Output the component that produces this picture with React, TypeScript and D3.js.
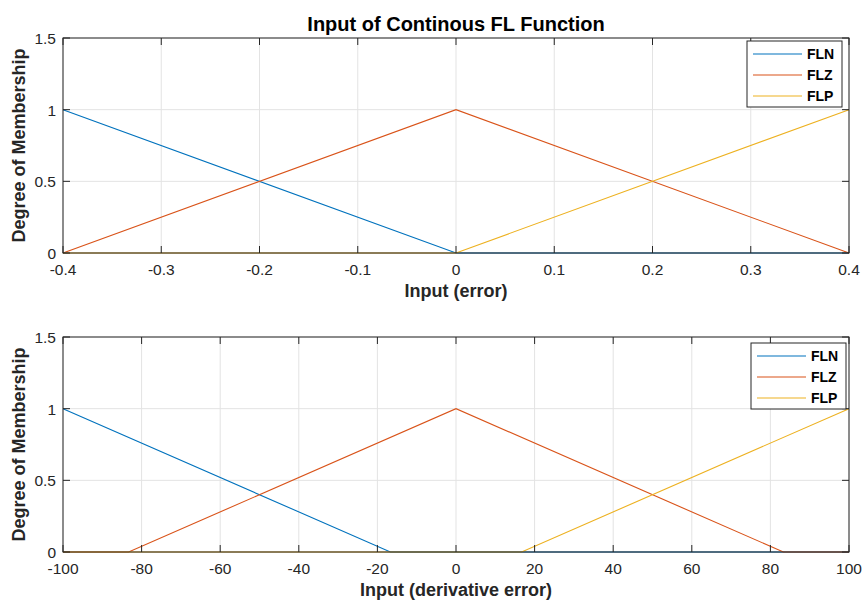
import React from 'react';
import { scaleLinear, line } from 'd3';

// Membership function breakpoints
const errX = [-0.4, 0, 0.4];
const errFLN = [1, 0, 0];
const errFLZ = [0, 1, 0];
const errFLP = [0, 0, 1];

const derFLNx = [-100, -16.7, 100];
const derFLNy = [1, 0, 0];
const derFLZx = [-100, -83.3, 0, 83.3, 100];
const derFLZy = [0, 0, 1, 0, 0];
const derFLPx = [-100, 16.7, 100];
const derFLPy = [0, 0, 1];

const errTicks = [-0.4, -0.3, -0.2, -0.1, 0, 0.1, 0.2, 0.3, 0.4];
const derTicks = [-100, -80, -60, -40, -20, 0, 20, 40, 60, 80, 100];
const yTicks = [0, 0.5, 1, 1.5];
const names = ['FLN', 'FLZ', 'FLP'];
const colors = ['#0072BD', '#D95319', '#EDB120'];

const width = 863;
const height = 601;
const font = '"Liberation Sans", Arial, sans-serif';
const axisColor = '#262626';

type Series = { xs: number[]; ys: number[] };

const Panel = ({ top, series, ticks, xLabel, legendTop, legendLeft }: {
    top: number; series: Series[]; ticks: number[]; xLabel: string; legendTop: number; legendLeft: number;
}) => {
    const left = 63;
    const right = 849;
    const bottom = top + 215;
    const xScale = scaleLinear().domain([ticks[0], ticks[ticks.length - 1]]).range([left, right]);
    const yScale = scaleLinear().domain([0, 1.5]).range([bottom, top]);
    const fmt = (t: number) => (Math.abs(t) < 1e-9 ? '0' : String(+t.toFixed(2)));

    return (
        <g>
            {/* grid */}
            {ticks.map((t) => (
                <line key={'gx' + t} x1={xScale(t)} x2={xScale(t)} y1={top} y2={bottom} stroke="#e3e3e3" strokeWidth={1} />
            ))}
            {yTicks.map((t) => (
                <line key={'gy' + t} x1={left} x2={right} y1={yScale(t)} y2={yScale(t)} stroke="#e3e3e3" strokeWidth={1} />
            ))}
            {/* curves */}
            {series.map((s, i) => {
                const pts = s.xs.map((x, j) => [x, s.ys[j]] as [number, number]);
                const d = line<[number, number]>().x((p) => xScale(p[0])).y((p) => yScale(p[1]))(pts) || '';
                return <path key={i} d={d} fill="none" stroke={colors[i]} strokeWidth={1.1} />;
            })}
            {/* box */}
            <rect x={left} y={top} width={right - left} height={bottom - top} fill="none" stroke={axisColor} strokeWidth={1} />
            {/* ticks */}
            {ticks.map((t) => (
                <g key={'tx' + t}>
                    <line x1={xScale(t)} x2={xScale(t)} y1={bottom} y2={bottom - 7} stroke={axisColor} />
                    <line x1={xScale(t)} x2={xScale(t)} y1={top} y2={top + 7} stroke={axisColor} />
                    <text x={xScale(t)} y={bottom + 22} textAnchor="middle" fontSize={15.5} fill={axisColor}>{fmt(t)}</text>
                </g>
            ))}
            {yTicks.map((t) => (
                <g key={'ty' + t}>
                    <line x1={left} x2={left + 7} y1={yScale(t)} y2={yScale(t)} stroke={axisColor} />
                    <line x1={right} x2={right - 7} y1={yScale(t)} y2={yScale(t)} stroke={axisColor} />
                    <text x={left - 7} y={yScale(t) + 6} textAnchor="end" fontSize={15.5} fill={axisColor}>{fmt(t)}</text>
                </g>
            ))}
            {/* axis labels */}
            <text x={(left + right) / 2} y={bottom + 44} textAnchor="middle" fontSize={18} fontWeight="bold" fill={axisColor}>{xLabel}</text>
            <text transform={`translate(25, ${(top + bottom) / 2}) rotate(-90)`} textAnchor="middle" fontSize={18} fontWeight="bold" fill={axisColor}>Degree of Membership</text>
            {/* legend */}
            <rect x={legendLeft} y={legendTop} width={95} height={66} fill="#fff" stroke={axisColor} strokeWidth={1} />
            {names.map((n, i) => (
                <g key={n}>
                    <line x1={legendLeft + 6} x2={legendLeft + 55} y1={legendTop + 13 + i * 21} y2={legendTop + 13 + i * 21} stroke={colors[i]} strokeWidth={1.1} />
                    <text x={legendLeft + 60} y={legendTop + 18 + i * 21} fontSize={14} fontWeight="bold" fill="#000">{n}</text>
                </g>
            ))}
        </g>
    );
};

const App = () => {
    const errSeries: Series[] = [
        { xs: errX, ys: errFLN },
        { xs: errX, ys: errFLZ },
        { xs: errX, ys: errFLP },
    ];
    const derSeries: Series[] = [
        { xs: derFLNx, ys: derFLNy },
        { xs: derFLZx, ys: derFLZy },
        { xs: derFLPx, ys: derFLPy },
    ];
    return (
        <svg width={width} height={height} style={{ position: 'absolute', left: 0, top: 0, fontFamily: font, background: '#fff' }}>
            <rect width={width} height={height} fill="#fff" />
            <text x={456} y={31} textAnchor="middle" fontSize={20} fontWeight="bold" fill="#000">Input of Continous FL Function</text>
            <Panel top={38} series={errSeries} ticks={errTicks} xLabel="Input (error)" legendTop={41} legendLeft={747} />
            <Panel top={337} series={derSeries} ticks={derTicks} xLabel="Input (derivative error)" legendTop={343} legendLeft={751} />
        </svg>
    );
};

export default App;
